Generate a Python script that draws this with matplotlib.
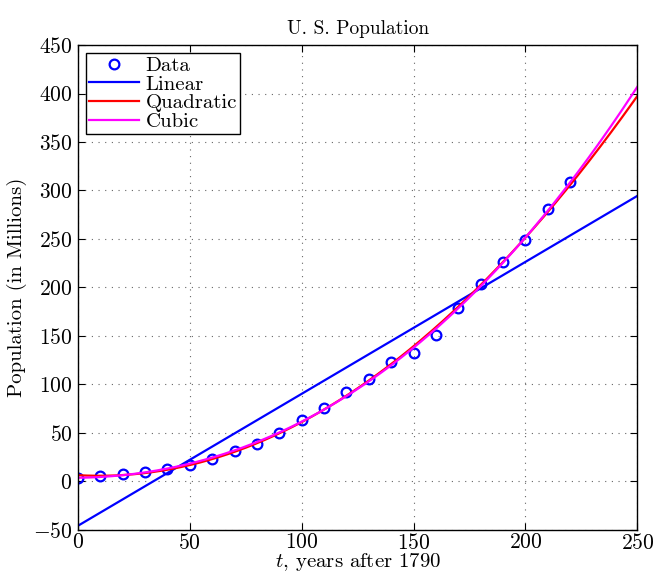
import numpy as np
import matplotlib
matplotlib.use('Agg')
import matplotlib.pyplot as plt

plt.rcParams['font.family'] = ['cmr10', 'DejaVu Serif']
plt.rcParams['mathtext.fontset'] = 'cm'
plt.rcParams['axes.formatter.use_mathtext'] = True

# census counts, decades after 1790
t = [0, 10, 20, 30, 40, 50, 60, 70, 80, 90, 100, 110,
     120, 130, 140, 150, 160, 170, 180, 190, 200, 210, 220]
pop = [3.9, 5.3, 7.2, 9.6, 12.9, 17.1, 23.2, 31.4, 38.6, 50.2, 63.0, 76.2,
       92.2, 106.0, 123.2, 132.2, 151.3, 179.3, 203.3, 226.5, 248.7, 281.4, 308.7]

xticks = [0, 50, 100, 150, 200, 250]
yticks = [-50, 0, 50, 100, 150, 200, 250, 300, 350, 400, 450]

# least squares fits of degree 1, 2, 3
tt = np.linspace(0, 250, 300)
p1 = np.polyfit(t, pop, 1)
p2 = np.polyfit(t, pop, 2)
p3 = np.polyfit(t, pop, 3)

fig = plt.figure(figsize=(6.55, 5.77), dpi=100)
ax = fig.add_axes([0.119, 0.0815, 0.854, 0.8405])

ax.plot(t, pop, 'o', mfc='none', mec='blue', mew=1.6, ms=7, label='Data')
ax.plot(tt, np.polyval(p1, tt), color='blue', lw=1.6, label='Linear')
ax.plot(tt, np.polyval(p2, tt), color='red', lw=1.6, label='Quadratic')
ax.plot(tt, np.polyval(p3, tt), color='magenta', lw=1.6, label='Cubic')

ax.set_xlim(0, 250)
ax.set_ylim(-50, 450)
ax.set_xticks(xticks)
ax.set_yticks(yticks)
ax.tick_params(direction='in', top=True, right=True, labelsize=15.5, length=5)
ax.tick_params(axis='x', pad=2)
ax.tick_params(axis='y', pad=4)
ax.grid(True, linestyle=(0, (1, 5)), color='0.4', lw=0.8)
for s in ax.spines.values():
    s.set_linewidth(1.0)

ax.set_title('U. S. Population', fontsize=14, pad=8)
ax.set_xlabel('$t$, years after 1790', fontsize=15, labelpad=-1)
ax.set_ylabel('Population (in Millions)', fontsize=15, labelpad=4)

leg = ax.legend(loc='upper left', fontsize=15, handlelength=2.4, handletextpad=0.3,
                labelspacing=0.0, borderpad=0.15, borderaxespad=0.4,
                fancybox=False, framealpha=1, edgecolor='black')
leg.get_frame().set_linewidth(1.0)

fig.savefig('out.png', dpi=100)
